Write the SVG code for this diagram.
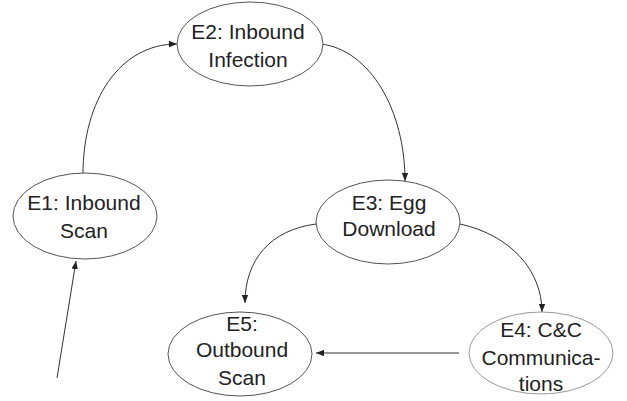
<svg xmlns="http://www.w3.org/2000/svg" width="627" height="401" viewBox="0 0 627 401">
<defs>
<style>
.node ellipse{fill:#fff;stroke:#555;stroke-width:1}
.node text{font-family:"Liberation Sans",Arial,sans-serif;font-size:21px;fill:#222;text-anchor:middle}
.edges path{fill:none;stroke:#333;stroke-width:1;marker-end:url(#arr)}
</style>
<marker id="arr" viewBox="0 0 10 10" refX="10" refY="5" markerWidth="8" markerHeight="8" markerUnits="userSpaceOnUse" orient="auto">
<path d="M0,1 L10,5 L0,9 z" fill="#222"/>
</marker>
</defs>
<rect width="627" height="401" fill="#fff"/>
<g class="edges">
<path d="M57,378 L76,261"/>
<path d="M83,174 C83,100 120,44 177,44"/>
<path d="M321,44 C370,50 405,110 405,181"/>
<path d="M316,224 C270,230 245,260 245,303"/>
<path d="M460,224 C510,235 542,270 542,312"/>
<path d="M459,353 L316,353"/>
</g>
<g id="E1" class="node"><ellipse cx="85" cy="216" rx="72" ry="43"/><text x="84" y="210">E1: Inbound</text><text x="84" y="238">Scan</text></g>
<g id="E2" class="node"><ellipse cx="250" cy="44" rx="73" ry="42"/><text x="248" y="39">E2: Inbound</text><text x="248" y="67">Infection</text></g>
<g id="E3" class="node"><ellipse cx="388" cy="222" rx="72" ry="42"/><text x="389" y="210">E3: Egg</text><text x="389" y="236">Download</text></g>
<g id="E4" class="node"><ellipse cx="541" cy="353" rx="72" ry="41" style="stroke:#999"/><text x="541" y="337">E4: C&amp;C</text><text x="541" y="365">Communica-</text><text x="541" y="391">tions</text></g>
<g id="E5" class="node"><ellipse cx="240" cy="354" rx="72" ry="42"/><text x="242" y="331">E5:</text><text x="242" y="357">Outbound</text><text x="242" y="385">Scan</text></g>
</svg>
